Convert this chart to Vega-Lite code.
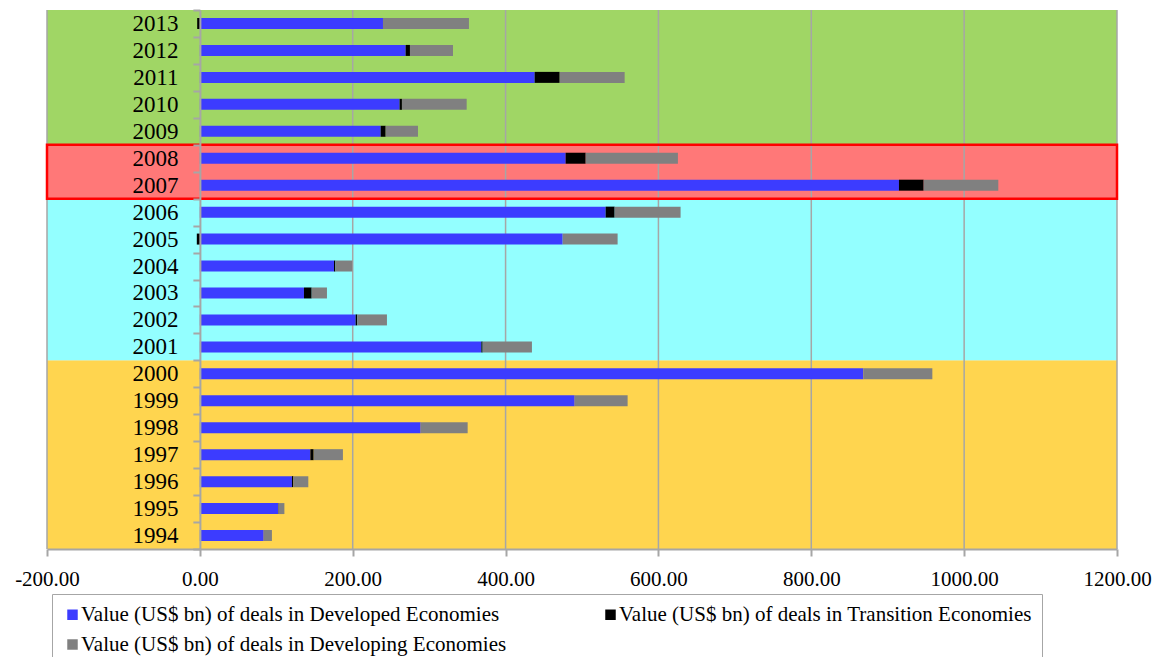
{
  "$schema": "https://vega.github.io/schema/vega-lite/v6.json",
  "width": 1070,
  "height": 539,
  "autosize": {"type": "none"},
  "padding": {"left": 47, "top": 10, "right": 48, "bottom": 108},
  "background": "white",
  "config": {"font": "Liberation Serif", "view": {"stroke": null}},
  "datasets": {
    "deals": [
      {"year": 1994, "Developed": 83.5, "Transition": 0, "Developing": 10.8},
      {"year": 1995, "Developed": 102.7, "Transition": 0.4, "Developing": 7.5},
      {"year": 1996, "Developed": 120.5, "Transition": 1.8, "Developing": 19.6},
      {"year": 1997, "Developed": 144.6, "Transition": 4.3, "Developing": 38.3},
      {"year": 1998, "Developed": 288.9, "Transition": 0, "Developing": 61.5},
      {"year": 1999, "Developed": 490.4, "Transition": 0, "Developing": 69.3},
      {"year": 2000, "Developed": 868.1, "Transition": 0, "Developing": 90.3},
      {"year": 2001, "Developed": 368.3, "Transition": 1.7, "Developing": 64.5},
      {"year": 2002, "Developed": 203.8, "Transition": 2.2, "Developing": 38.8},
      {"year": 2003, "Developed": 136.2, "Transition": 10.1, "Developing": 20.0},
      {"year": 2004, "Developed": 175.5, "Transition": 1.8, "Developing": 22.2},
      {"year": 2005, "Developed": 474.7, "Transition": -4.0, "Developing": 71.9},
      {"year": 2006, "Developed": 530.9, "Transition": 11.8, "Developing": 86.3},
      {"year": 2007, "Developed": 914.7, "Transition": 32.3, "Developing": 97.7},
      {"year": 2008, "Developed": 478.6, "Transition": 26.2, "Developing": 120.7},
      {"year": 2009, "Developed": 236.6, "Transition": 6.5, "Developing": 42.3},
      {"year": 2010, "Developed": 261.4, "Transition": 3.0, "Developing": 84.7},
      {"year": 2011, "Developed": 438.1, "Transition": 32.7, "Developing": 85.0},
      {"year": 2012, "Developed": 269.3, "Transition": 5.6, "Developing": 56.3},
      {"year": 2013, "Developed": 239.6, "Transition": -3.5, "Developing": 112.5}
    ],
    "eras": [
      {"era": "1994-2000", "from": 1993.5, "to": 2000.5},
      {"era": "2001-2006", "from": 2000.5, "to": 2006.5},
      {"era": "2007-2008", "from": 2006.5, "to": 2008.5},
      {"era": "2009-2013", "from": 2008.5, "to": 2013.5}
    ],
    "grid": [{"v": -200}, {"v": 200}, {"v": 400}, {"v": 600}, {"v": 800}, {"v": 1000}, {"v": 1200}]
  },
  "layer": [
    {
      "data": {"name": "eras"},
      "mark": {"type": "rect"},
      "encoding": {
        "y": {"field": "from", "type": "quantitative", "scale": {"domain": [1993.5, 2013.5], "nice": false, "zero": false, "padding": 0}},
        "y2": {"field": "to"},
        "x": {"datum": -200, "type": "quantitative", "scale": {"domain": [-200, 1200], "nice": false, "zero": false, "padding": 0}},
        "x2": {"datum": 1200},
        "fill": {"field": "era", "type": "nominal", "legend": null,
          "scale": {"domain": ["1994-2000", "2001-2006", "2007-2008", "2009-2013"], "range": ["#FFD54F", "#93FFFF", "#FF7878", "#A0D665"]}}
      }
    },
    {
      "data": {"name": "grid"},
      "mark": {"type": "rule", "color": "#A6A6A6", "strokeWidth": 1.5},
      "encoding": {"x": {"field": "v", "type": "quantitative"}}
    },
    {
      "data": {"name": "eras"},
      "transform": [{"filter": "datum.era === '2007-2008'"}],
      "mark": {"type": "rect", "fillOpacity": 0, "stroke": "#FF0000", "strokeWidth": 2.5},
      "encoding": {
        "y": {"field": "from", "type": "quantitative"},
        "y2": {"field": "to"},
        "x": {"datum": -200, "type": "quantitative"},
        "x2": {"datum": 1200}
      }
    },
    {
      "data": {"name": "deals"},
      "transform": [
        {"fold": ["Developed", "Transition", "Developing"], "as": ["series", "value"]},
        {"calculate": "indexof(['Developed','Transition','Developing'], datum.series)", "as": "ord"}
      ],
      "mark": {"type": "bar", "orient": "horizontal", "size": 11},
      "encoding": {
        "y": {"field": "year", "type": "quantitative",
          "scale": {"domain": [1993.5, 2013.5], "nice": false, "zero": false, "padding": 0},
          "axis": {"orient": "left", "offset": -152.9, "title": null, "grid": false, "tickCount": 40,
            "values": [1993.5, 1994.5, 1995.5, 1996.5, 1997.5, 1998.5, 1999.5, 2000.5, 2001.5, 2002.5, 2003.5, 2004.5, 2005.5, 2006.5, 2007.5, 2008.5, 2009.5, 2010.5, 2011.5, 2012.5, 2013.5],
            "labelExpr": "datum.value < 1994 ? '' : toString(floor(datum.value))",
            "labelOffset": 13.47, "labelFontSize": 23, "labelColor": "black", "labelFont": "Liberation Serif",
            "labelPadding": 15, "labelOverlap": false, "labelFlush": false, "labelBound": false,
            "tickColor": "#A6A6A6", "tickSize": 7, "tickWidth": 2,
            "domainColor": "#A6A6A6", "domainWidth": 2, "zindex": 1}},
        "x": {"field": "value", "type": "quantitative", "stack": "zero",
          "scale": {"domain": [-200, 1200], "nice": false, "zero": false, "padding": 0},
          "axis": {"title": null, "grid": false, "tickCount": 20, "values": [-200, 0, 200, 400, 600, 800, 1000, 1200],
            "labelExpr": "replace(format(datum.value, '.2f'), '\u2212', '-')",
            "labelFontSize": 21, "labelColor": "black", "labelFont": "Liberation Serif",
            "labelPadding": 12, "labelFlush": false, "labelOverlap": false,
            "tickColor": "#A6A6A6", "tickSize": 7, "tickWidth": 2,
            "domainColor": "#A6A6A6", "domainWidth": 2, "zindex": 1}},
        "color": {"field": "series", "type": "nominal",
          "scale": {"domain": ["Developed", "Transition", "Developing"], "range": ["#3C3CFF", "#000000", "#808080"]},
          "legend": {"orient": "none", "legendX": 5, "legendY": 584, "columns": 2, "direction": "horizontal",
            "title": null, "strokeColor": "#A6A6A6", "padding": 10,
            "symbolType": "square", "symbolSize": 110, "symbolStrokeWidth": 0,
            "labelFont": "Liberation Serif", "labelFontSize": 21, "labelColor": "black", "labelOffset": -2, "labelLimit": 0,
            "columnPadding": 93, "rowPadding": 8,
            "labelExpr": "'Value (US$ bn) of deals in ' + datum.label + ' Economies'"}},
        "order": {"field": "ord", "type": "quantitative"}
      }
    }
  ]
}
